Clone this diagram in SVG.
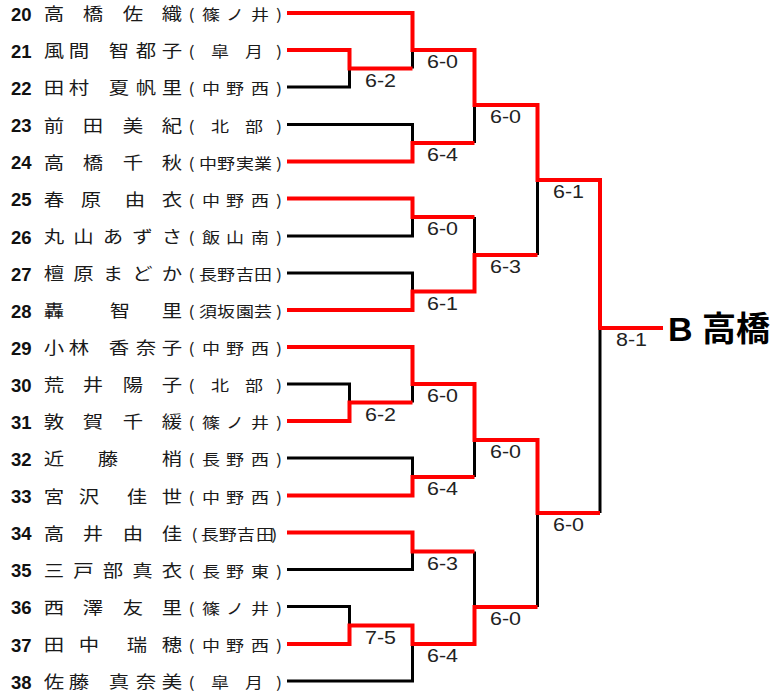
<svg xmlns="http://www.w3.org/2000/svg" width="771" height="695" viewBox="0 0 771 695">
<style>
.num{font-family:"Liberation Sans",Arial,sans-serif;font-weight:bold;font-size:18.5px;fill:#111}
.nm{font-family:"Noto Sans CJK JP",sans-serif;font-size:17px;fill:#1a1a1a}
.sc{font-family:"Noto Sans CJK JP",sans-serif;font-size:15px;fill:#1a1a1a}
.k{fill:none;stroke:#000;stroke-width:3}
.r{fill:none;stroke:#ff0000;stroke-width:4}
.s{font-family:"Liberation Sans",Arial,sans-serif;font-size:18px;fill:#222}
.win{font-family:"Liberation Sans","Noto Sans CJK JP",sans-serif;font-weight:bold;font-size:34px;fill:#000}
</style>
<rect width="771" height="695" fill="#fff"/>

<g id="p20"><text class="num" x="11" y="20.5">20</text><g transform="scale(1.2 1)"><text class="nm" x="36.5 69 102.3 134.8" y="20.5">高橋佐織</text><text class="sc" x="157 168.3 188.3 209.1 230.1" y="20.5">(篠ノ井)</text></g></g>
<g id="p21"><text class="num" x="11" y="57.5">21</text><g transform="scale(1.2 1)"><text class="nm" x="36.5 57.3 90.7 113.2 134.8" y="57.5">風間智都子</text><text class="sc" x="157 175.8 204.1 230.1" y="57.5">(皐月)</text></g></g>
<g id="p22"><text class="num" x="11" y="94.5">22</text><g transform="scale(1.2 1)"><text class="nm" x="36.5 57.3 90.7 113.2 134.8" y="94.5">田村夏帆里</text><text class="sc" x="157 168.3 188.3 209.1 230.1" y="94.5">(中野西)</text></g></g>
<g id="p23"><text class="num" x="11" y="132">23</text><g transform="scale(1.2 1)"><text class="nm" x="36.5 69 102.3 134.8" y="132">前田美紀</text><text class="sc" x="157 175.8 204.1 230.1" y="132">(北部)</text></g></g>
<g id="p24"><text class="num" x="11" y="169">24</text><g transform="scale(1.2 1)"><text class="nm" x="36.5 69 102.3 134.8" y="169">高橋千秋</text><text class="sc" x="157 165.8 180.8 196.6 211.6 230.1" y="169">(中野実業)</text></g></g>
<g id="p25"><text class="num" x="11" y="206">25</text><g transform="scale(1.2 1)"><text class="nm" x="36.5 67.3 104 134.8" y="206">春原由衣</text><text class="sc" x="157 168.3 188.3 209.1 230.1" y="206">(中野西)</text></g></g>
<g id="p26"><text class="num" x="11" y="243.5">26</text><g transform="scale(1.2 1)"><text class="nm" x="36.5 61.1 85.7 110.3 134.8" y="243.5">丸山あずさ</text><text class="sc" x="157 168.3 188.3 209.1 230.1" y="243.5">(飯山南)</text></g></g>
<g id="p27"><text class="num" x="11" y="280.5">27</text><g transform="scale(1.2 1)"><text class="nm" x="36.5 61.1 85.7 110.3 134.8" y="280.5">檀原まどか</text><text class="sc" x="157 165.8 180.8 196.6 211.6 230.1" y="280.5">(長野吉田)</text></g></g>
<g id="p28"><text class="num" x="11" y="317.5">28</text><g transform="scale(1.2 1)"><text class="nm" x="36.5 91.5 134.8" y="317.5">轟智里</text><text class="sc" x="157 165.8 180.8 196.6 211.6 230.1" y="317.5">(須坂園芸)</text></g></g>
<g id="p29"><text class="num" x="11" y="354.5">29</text><g transform="scale(1.2 1)"><text class="nm" x="36.5 57.3 90.7 113.2 134.8" y="354.5">小林香奈子</text><text class="sc" x="157 168.3 188.3 209.1 230.1" y="354.5">(中野西)</text></g></g>
<g id="p30"><text class="num" x="11" y="391.5">30</text><g transform="scale(1.2 1)"><text class="nm" x="36.5 69 102.3 134.8" y="391.5">荒井陽子</text><text class="sc" x="157 175.8 204.1 230.1" y="391.5">(北部)</text></g></g>
<g id="p31"><text class="num" x="11" y="428.5">31</text><g transform="scale(1.2 1)"><text class="nm" x="36.5 69 102.3 134.8" y="428.5">敦賀千緩</text><text class="sc" x="157 168.3 188.3 209.1 230.1" y="428.5">(篠ノ井)</text></g></g>
<g id="p32"><text class="num" x="11" y="465.5">32</text><g transform="scale(1.2 1)"><text class="nm" x="36.5 81.5 134.8" y="465.5">近藤梢</text><text class="sc" x="157 168.3 188.3 209.1 230.1" y="465.5">(長野西)</text></g></g>
<g id="p33"><text class="num" x="11" y="503">33</text><g transform="scale(1.2 1)"><text class="nm" x="36.5 65.7 105.7 134.8" y="503">宮沢佳世</text><text class="sc" x="157 168.3 188.3 209.1 230.1" y="503">(中野西)</text></g></g>
<g id="p34"><text class="num" x="11" y="540">34</text><g transform="scale(1.2 1)"><text class="nm" x="36.5 69 102.3 134.8" y="540">高井由佳</text><text class="sc" x="159.5 167.4 182.4 197.4 213.3 226" y="540">(長野吉田)</text></g></g>
<g id="p35"><text class="num" x="11" y="577">35</text><g transform="scale(1.2 1)"><text class="nm" x="36.5 61.1 85.7 110.3 134.8" y="577">三戸部真衣</text><text class="sc" x="157 168.3 188.3 209.1 230.1" y="577">(長野東)</text></g></g>
<g id="p36"><text class="num" x="11" y="614">36</text><g transform="scale(1.2 1)"><text class="nm" x="36.5 69 102.3 134.8" y="614">西澤友里</text><text class="sc" x="157 168.3 188.3 209.1 230.1" y="614">(篠ノ井)</text></g></g>
<g id="p37"><text class="num" x="11" y="651.5">37</text><g transform="scale(1.2 1)"><text class="nm" x="36.5 65.7 105.7 134.8" y="651.5">田中瑞穂</text><text class="sc" x="157 168.3 188.3 209.1 230.1" y="651.5">(中野西)</text></g></g>
<g id="p38"><text class="num" x="11" y="688.5">38</text><g transform="scale(1.2 1)"><text class="nm" x="36.5 57.3 90.7 113.2 134.8" y="688.5">佐藤真奈美</text><text class="sc" x="157 175.8 204.1 230.1" y="688.5">(皐月)</text></g></g>

<g id="connectors">
<path class="k" d="M287 87H349.5V68.5"/>
<path class="k" d="M287 124.5H412.5V143"/>
<path class="k" d="M287 236H412.5V217"/>
<path class="k" d="M287 273H412.5V291.5"/>
<path class="k" d="M287 384H349.5V402.5"/>
<path class="k" d="M287 458H412.5V477"/>
<path class="k" d="M287 569.5H412.5V551.5"/>
<path class="k" d="M287 606.5H349.5V625.5"/>
<path class="k" d="M287 681H412.5V644"/>
<path class="k" d="M412.5 68.5V50"/>
<path class="k" d="M474.5 143V105"/>
<path class="k" d="M474.5 217V255"/>
<path class="k" d="M537.5 255V180"/>
<path class="k" d="M412.5 402.5V384"/>
<path class="k" d="M474.5 477V440"/>
<path class="k" d="M474.5 551.5V607"/>
<path class="k" d="M537.5 607V513"/>
<path class="k" d="M600 513V328"/>
<path class="r" d="M287 13H412.5V50H474.5V105H537.5V180H600V328H663"/>
<path class="r" d="M287 50H349.5V68.5H412.5"/>
<path class="r" d="M287 161.5H412.5V143H474.5"/>
<path class="r" d="M287 198.5H412.5V217H474.5"/>
<path class="r" d="M287 310H412.5V291.5H474.5V255H537.5"/>
<path class="r" d="M287 347H412.5V384H474.5V440H537.5V513H600"/>
<path class="r" d="M287 421H349.5V402.5H412.5"/>
<path class="r" d="M287 495.5H412.5V477H474.5"/>
<path class="r" d="M287 532.5H412.5V551.5H474.5"/>
<path class="r" d="M287 644H349.5V625.5H412.5V644H474.5V607H537.5"/>
</g>

<g id="scores">
<text class="s" x="365" y="86.5" textLength="31" lengthAdjust="spacingAndGlyphs">6-2</text>
<text class="s" x="427" y="68" textLength="31" lengthAdjust="spacingAndGlyphs">6-0</text>
<text class="s" x="427" y="161" textLength="31" lengthAdjust="spacingAndGlyphs">6-4</text>
<text class="s" x="490" y="123" textLength="31" lengthAdjust="spacingAndGlyphs">6-0</text>
<text class="s" x="427" y="235" textLength="31" lengthAdjust="spacingAndGlyphs">6-0</text>
<text class="s" x="427" y="309.5" textLength="31" lengthAdjust="spacingAndGlyphs">6-1</text>
<text class="s" x="490" y="273" textLength="31" lengthAdjust="spacingAndGlyphs">6-3</text>
<text class="s" x="553" y="198" textLength="31" lengthAdjust="spacingAndGlyphs">6-1</text>
<text class="s" x="616" y="346" textLength="31" lengthAdjust="spacingAndGlyphs">8-1</text>
<text class="s" x="427" y="402" textLength="31" lengthAdjust="spacingAndGlyphs">6-0</text>
<text class="s" x="365" y="420.5" textLength="31" lengthAdjust="spacingAndGlyphs">6-2</text>
<text class="s" x="427" y="495" textLength="31" lengthAdjust="spacingAndGlyphs">6-4</text>
<text class="s" x="490" y="458" textLength="31" lengthAdjust="spacingAndGlyphs">6-0</text>
<text class="s" x="427" y="569.5" textLength="31" lengthAdjust="spacingAndGlyphs">6-3</text>
<text class="s" x="365" y="643.5" textLength="31" lengthAdjust="spacingAndGlyphs">7-5</text>
<text class="s" x="427" y="662" textLength="31" lengthAdjust="spacingAndGlyphs">6-4</text>
<text class="s" x="490" y="625" textLength="31" lengthAdjust="spacingAndGlyphs">6-0</text>
<text class="s" x="553" y="531" textLength="31" lengthAdjust="spacingAndGlyphs">6-0</text>
</g>

<g id="winner"><text class="win" x="668" y="341">B 高橋</text></g>
</svg>
